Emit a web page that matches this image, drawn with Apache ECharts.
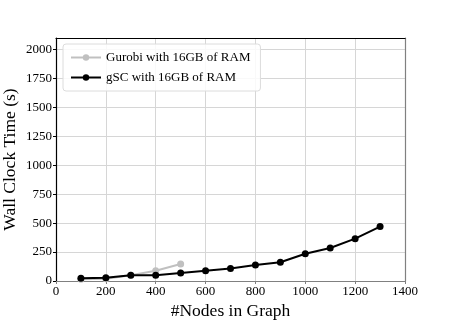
<!DOCTYPE html>
<html><head><meta charset="utf-8">
<script src="https://cdn.jsdelivr.net/npm/echarts@6/dist/echarts.min.js"></script>
<style>html,body{margin:0;padding:0;background:#fff}#c{width:450px;height:321px}</style>
</head><body><div id="c"></div>
<script>
const nodesGurobi = [100, 200, 300, 400, 500];
const timeGurobi = [15, 20, 50, 88, 147];
const nodesGSC = [100, 200, 300, 400, 500, 600, 700, 800, 900, 1000, 1100, 1200, 1300];
const timeGSC = [23, 29, 50, 49, 69, 89, 108, 138, 162, 236, 285, 366, 470];
const xTicks = [0, 200, 400, 600, 800, 1000, 1200, 1400];
const yTicks = [0, 250, 500, 750, 1000, 1250, 1500, 1750, 2000];

const font = 'Liberation Serif';
const chart = echarts.init(document.getElementById('c'), null, {renderer: 'canvas'});
chart.setOption({
  animation: false,
  backgroundColor: '#fff',
  grid: {left: 56, top: 38, right: 45, bottom: 40, containLabel: false, outerBoundsMode: 'none'},
  legend: {
    left: 63, top: 44, orient: 'vertical',
    itemWidth: 30, itemHeight: 8, itemGap: 7,
    padding: [7, 10, 7, 7],
    backgroundColor: 'rgba(255,255,255,0.85)',
    borderColor: '#dcdcdc', borderWidth: 1, borderRadius: 3,
    textStyle: {fontFamily: font, fontSize: 13, color: '#000'},
    data: ['Gurobi with 16GB of RAM', 'gSC with 16GB of RAM']
  },
  xAxis: [{
    type: 'value', min: 0, max: 1400, interval: 200,
    name: '#Nodes in Graph', nameLocation: 'middle', nameGap: 19,
    nameTextStyle: {fontFamily: font, fontSize: 17.5, color: '#000'},
    axisLine: {show: true, lineStyle: {color: '#808080', width: 1.2}},
    axisTick: {show: true, length: 3, lineStyle: {color: '#808080'}},
    axisLabel: {fontFamily: font, fontSize: 13, color: '#000', margin: 4,
      formatter: v => xTicks.includes(v) ? String(v) : ''},
    splitLine: {show: true, lineStyle: {color: '#d6d6d6', width: 1}}
  }, {
    type: 'value', position: 'top', min: 0, max: 1400,
    axisLine: {show: true, onZero: false, lineStyle: {color: '#000', width: 1.2}},
    axisTick: {show: false}, axisLabel: {show: false}, splitLine: {show: false}
  }],
  yAxis: [{
    type: 'value', min: 0, max: 2100, interval: 250,
    name: 'Wall Clock Time (s)', nameLocation: 'middle', nameGap: 37,
    nameMoveOverlap: false,
    nameTextStyle: {fontFamily: font, fontSize: 17.5, color: '#000'},
    axisLine: {show: true, lineStyle: {color: '#000', width: 1.2}},
    axisTick: {show: true, length: 3, lineStyle: {color: '#000'}},
    axisLabel: {fontFamily: font, fontSize: 13, color: '#000', margin: 4,
      showMaxLabel: false,
      formatter: v => yTicks.includes(v) ? String(v) : ''},
    splitLine: {show: true, lineStyle: {color: '#d6d6d6', width: 1}}
  }, {
    type: 'value', position: 'right', min: 0, max: 2100,
    axisLine: {show: true, onZero: false, lineStyle: {color: '#808080', width: 1.2}},
    axisTick: {show: false}, axisLabel: {show: false}, splitLine: {show: false}
  }],
  series: [{
    name: 'Gurobi with 16GB of RAM', type: 'line',
    data: nodesGurobi.map((x, i) => [x, timeGurobi[i]]),
    symbol: 'circle', symbolSize: 7,
    lineStyle: {color: '#c0c0c0', width: 2},
    itemStyle: {color: '#c0c0c0'}, z: 2
  }, {
    name: 'gSC with 16GB of RAM', type: 'line',
    data: nodesGSC.map((x, i) => [x, timeGSC[i]]),
    symbol: 'circle', symbolSize: 7,
    lineStyle: {color: '#000', width: 2},
    itemStyle: {color: '#000'}, z: 3
  }]
});
</script></body></html>
